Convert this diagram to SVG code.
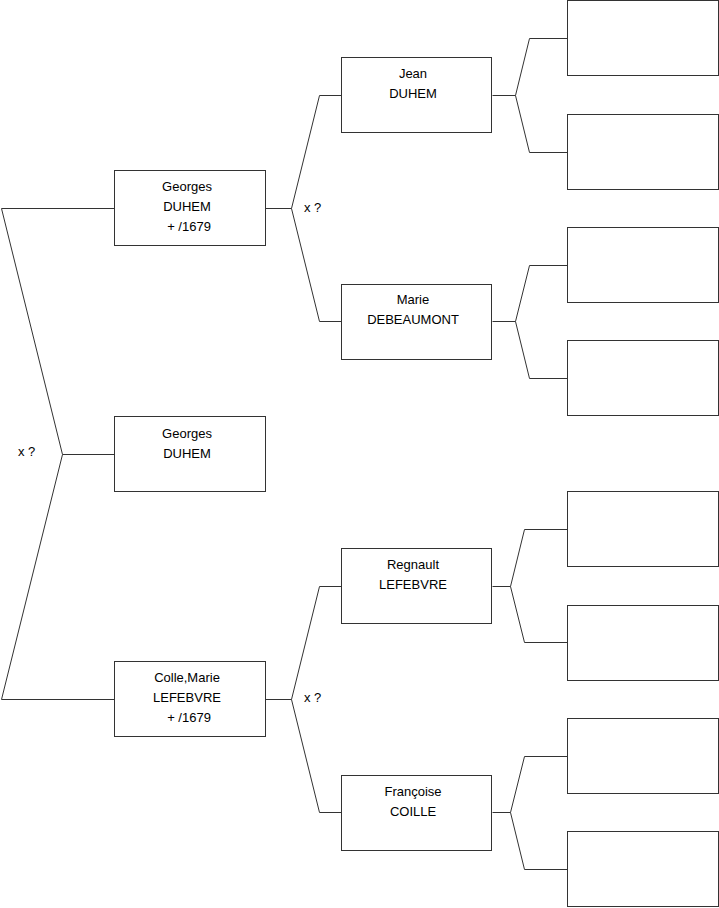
<svg xmlns="http://www.w3.org/2000/svg" width="719" height="908" viewBox="0 0 719 908">
<style>
.box{fill:#fff;stroke:#333;stroke-width:1}
.ln{fill:none;stroke:#333;stroke-width:1}
text{font-family:"Liberation Sans",Arial,sans-serif;font-size:13px;fill:#000}
.c{text-anchor:middle}
</style>
<rect width="719" height="908" fill="#fff"/>
<g id="connectors">
<path class="ln" d="M114.5,454.5 H62.5 L1.5,208.5 H114.5 M62.5,454.5 L1.5,699.5 H114.5"/>
<path class="ln" d="M265.5,208.5 H291.5 L319.5,95.5 H341.5 M291.5,208.5 L319.5,321.5 H341.5"/>
<path class="ln" d="M265.5,699.5 H291.5 L319.5,586.5 H341.5 M291.5,699.5 L319.5,812.5 H341.5"/>
<path class="ln" d="M492.5,95.5 H515.5 L529.5,38.5 H567.5 M515.5,95.5 L529.5,152.5 H567.5"/>
<path class="ln" d="M492.5,321.5 H515.5 L529.5,265.5 H567.5 M515.5,321.5 L529.5,378.5 H567.5"/>
<path class="ln" d="M492.5,586.5 H510.5 L524.5,529.5 H567.5 M510.5,586.5 L524.5,642.5 H567.5"/>
<path class="ln" d="M492.5,812.5 H510.5 L524.5,756.5 H567.5 M510.5,812.5 L524.5,869.5 H567.5"/>
<text x="18" y="456">x ?</text>
<text x="304" y="212">x ?</text>
<text x="304" y="702">x ?</text>
</g>
<g id="n-root">
<rect class="box" x="114.5" y="416.5" width="151" height="75"/>
<text class="c" x="187" y="438">Georges</text>
<text class="c" x="187" y="458">DUHEM</text>
</g>
<g id="n-father">
<rect class="box" x="114.5" y="170.5" width="151" height="75"/>
<text class="c" x="187" y="191">Georges</text>
<text class="c" x="187" y="211">DUHEM</text>
<text class="c" x="189" y="231"> + /1679</text>
</g>
<g id="n-mother">
<rect class="box" x="114.5" y="661.5" width="151" height="75"/>
<text class="c" x="187" y="682">Colle,Marie</text>
<text class="c" x="187" y="702">LEFEBVRE</text>
<text class="c" x="189" y="722"> + /1679</text>
</g>
<g id="n-ff">
<rect class="box" x="341.5" y="57.5" width="150" height="75"/>
<text class="c" x="413" y="78">Jean</text>
<text class="c" x="413" y="98">DUHEM</text>
</g>
<g id="n-fm">
<rect class="box" x="341.5" y="284.5" width="150" height="75"/>
<text class="c" x="413" y="304">Marie</text>
<text class="c" x="413" y="324">DEBEAUMONT</text>
</g>
<g id="n-mf">
<rect class="box" x="341.5" y="548.5" width="150" height="75"/>
<text class="c" x="413" y="569">Regnault</text>
<text class="c" x="413" y="589">LEFEBVRE</text>
</g>
<g id="n-mm">
<rect class="box" x="341.5" y="775.5" width="150" height="75"/>
<text class="c" x="413" y="796">Françoise</text>
<text class="c" x="413" y="816">COILLE</text>
</g>
<g id="n-g1"><rect class="box" x="567.5" y="0.5" width="151" height="75"/></g>
<g id="n-g2"><rect class="box" x="567.5" y="114.5" width="151" height="75"/></g>
<g id="n-g3"><rect class="box" x="567.5" y="227.5" width="151" height="75"/></g>
<g id="n-g4"><rect class="box" x="567.5" y="340.5" width="151" height="75"/></g>
<g id="n-g5"><rect class="box" x="567.5" y="491.5" width="151" height="75"/></g>
<g id="n-g6"><rect class="box" x="567.5" y="605.5" width="151" height="75"/></g>
<g id="n-g7"><rect class="box" x="567.5" y="718.5" width="151" height="75"/></g>
<g id="n-g8"><rect class="box" x="567.5" y="831.5" width="151" height="75"/></g>
</svg>
